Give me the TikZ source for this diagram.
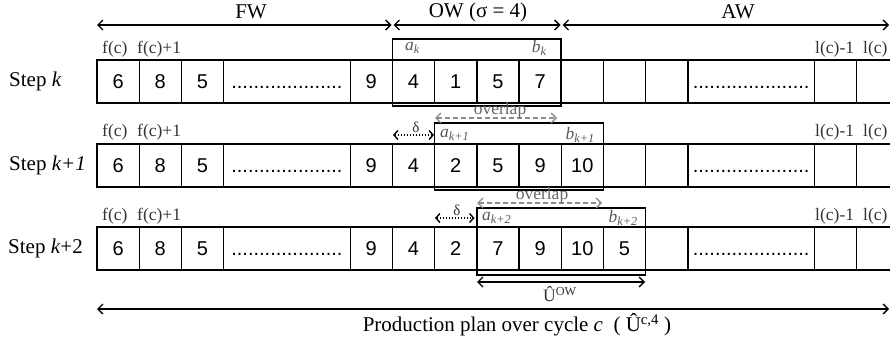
\documentclass[tikz,border=0pt]{standalone}
\usepackage{fontspec}
\setmainfont{Liberation Serif}
\newfontfamily\numfont{Liberation Sans}
\usetikzlibrary{arrows.meta}
\tikzset{
  barb/.tip={Straight Barb[length=5pt,width=10pt,line width=1.4pt]},
  cell/.style={draw, line width=1.4pt, minimum height=43pt, minimum width=42.2pt,
    inner sep=0pt, outer sep=0pt, font=\numfont\fontsize{20}{20}\selectfont},
  widecell/.style={cell, minimum width=126.6pt},
  owbox/.style={draw, line width=1.6pt, minimum width=168.8pt, minimum height=67pt,
    inner sep=0pt, outer sep=0pt},
  biglab/.style={font=\fontsize{21}{21}\selectfont, inner sep=0pt},
  smalllab/.style={font=\fontsize{17.5}{17.5}\selectfont, inner sep=0pt, text=black!80},
  abl/.style={font=\fontsize{17.5}{17.5}\selectfont, inner sep=0pt, text=black!65},
  harrow/.style={line width=1.4pt, barb-barb},
  ovarrow/.style={draw=black!45, line width=1.4pt, dash pattern=on 5pt off 3pt,
    {Straight Barb[length=5pt,width=10pt,line width=1.4pt]}-{Straight Barb[length=5pt,width=10pt,line width=1.4pt]}},
  dlarrow/.style={line width=1.6pt, dash pattern=on 1.5pt off 1.5pt,
    {Straight Barb[length=4pt,width=9pt,line width=1.4pt]}-{Straight Barb[length=4pt,width=9pt,line width=1.4pt]}},
}
\newcommand\dotsfill[1]{\vphantom{0}\foreach \i in {1,...,#1}{.}}
\newcommand\planrow[7]{%
  \node[cell] (#1c1) at (118.1,#2) {6};
  \node[cell] (#1c2) at (160.3,#2) {8};
  \node[cell] (#1c3) at (202.5,#2) {5};
  \node[widecell] (#1c4) at (286.9,#2) {\dotsfill{20}};
  \node[cell] (#1c5) at (371.3,#2) {9};
  \node[cell] (#1c6) at (413.5,#2) {4};
  \node[cell] (#1c7) at (455.7,#2) {#3};
  \node[cell] (#1c8) at (497.9,#2) {#4};
  \node[cell] (#1c9) at (540.1,#2) {#5};
  \node[cell] (#1c10) at (582.3,#2) {#6};
  \node[cell] (#1c11) at (624.5,#2) {#7};
  \node[cell] (#1c12) at (666.7,#2) {};
  \node[widecell] (#1c13) at (751.1,#2) {\dotsfill{21}};
  \node[cell] (#1c14) at (835.5,#2) {};
  \node[cell] (#1c15) at (877.7,#2) {};
}
\begin{document}
\begin{tikzpicture}[x=1pt,y=-1pt]
\path[use as bounding box, clip] (0,0) rectangle (890,345);
\fill[white] (0,0) rectangle (890,345);

% top window arrows
\coordinate (fwL) at (97,25);
\coordinate (fwR) at (391.5,25);
\coordinate (owL) at (393.5,25);
\coordinate (owR) at (560.5,25);
\coordinate (awL) at (562.5,25);
\coordinate (awR) at (889,25);
\draw[harrow] (fwL) -- (fwR);
\draw[harrow] (owL) -- (owR);
\draw[harrow] (awL) -- (awR);
\node[biglab] (fw) at (251,12) {FW};
\node[biglab] (ow) at (478,12) {OW (σ = 4)};
\node[biglab] (aw) at (738,12) {AW};

% rows
\planrow{a}{81.5}{1}{5}{7}{}{}
\planrow{b}{165.5}{2}{5}{9}{10}{}
\planrow{c}{248.5}{2}{7}{9}{10}{5}

% step labels
\node[biglab, anchor=west] (s1) at (9,81.5) {Step \textit{k}};
\node[biglab, anchor=west] (s2) at (9,165.5) {Step \textit{k+1}};
\node[biglab, anchor=west] (s3) at (8,248.5) {Step \textit{k}+2};

% position labels
\foreach \r/\y in {1/49,2/132.5,3/216}{
  \node[smalllab, anchor=west] (f\r) at (102,\y) {f(c)};
  \node[smalllab, anchor=west] (fp\r) at (137,\y) {f(c)+1};
  \node[smalllab, anchor=west] (lm\r) at (815,\y) {l(c)-1};
  \node[smalllab, anchor=west] (l\r) at (863,\y) {l(c)};
}

% optimisation windows
\node[owbox] (ow1) at (476.8,72.5) {};
\node[owbox] (ow2) at (519,156.5) {};
\node[owbox] (ow3) at (561.2,241.5) {};

\node[abl, anchor=west] (a1) at (405,48) {\textit{a}\textsubscript{\textit{k}}};
\node[abl, anchor=east] (b1) at (547,48) {\textit{b}\textsubscript{\textit{k}}};
\node[abl, anchor=west] (a2) at (440,135) {\textit{a}\textsubscript{\textit{k+1}}};
\node[abl, anchor=east] (b2) at (595,135) {\textit{b}\textsubscript{\textit{k+1}}};
\node[abl, anchor=west] (a3) at (482,218) {\textit{a}\textsubscript{\textit{k+2}}};
\node[abl, anchor=east] (b3) at (638,218) {\textit{b}\textsubscript{\textit{k+2}}};

% overlap arrows
\coordinate (ov2a) at (435,118);
\coordinate (ov2b) at (557,118);
\draw[ovarrow] (ov2a) -- (ov2b);
\node[smalllab, text=black!60] (ovl2) at (500,110.5) {overlap};
\coordinate (ov3a) at (477,203);
\coordinate (ov3b) at (602,203);
\draw[ovarrow] (ov3a) -- (ov3b);
\node[smalllab, text=black!60] (ovl3) at (542,195.5) {overlap};

% delta arrows
\coordinate (d2a) at (393,135);
\coordinate (d2b) at (434,135);
\draw[dlarrow] (d2a) -- (d2b);
\node[smalllab, font=\fontsize{15}{15}\selectfont] (dl2) at (416,127) {δ};
\coordinate (d3a) at (435,218);
\coordinate (d3b) at (474.5,218);
\draw[dlarrow] (d3a) -- (d3b);
\node[smalllab, font=\fontsize{15}{15}\selectfont] (dl3) at (457,210) {δ};

% U^OW
\coordinate (uL) at (477,282);
\coordinate (uR) at (645,282);
\draw[harrow] (uL) -- (uR);
\node[smalllab] (ulab) at (560,294) {Û\textsuperscript{OW}};

% production plan
\coordinate (pL) at (97,309);
\coordinate (pR) at (889,309);
\draw[harrow] (pL) -- (pR);
\node[biglab] (plab) at (517,325) {Production plan over cycle \textit{c}\ \ ( Û\textsuperscript{c,4} )};
\end{tikzpicture}
\end{document}
